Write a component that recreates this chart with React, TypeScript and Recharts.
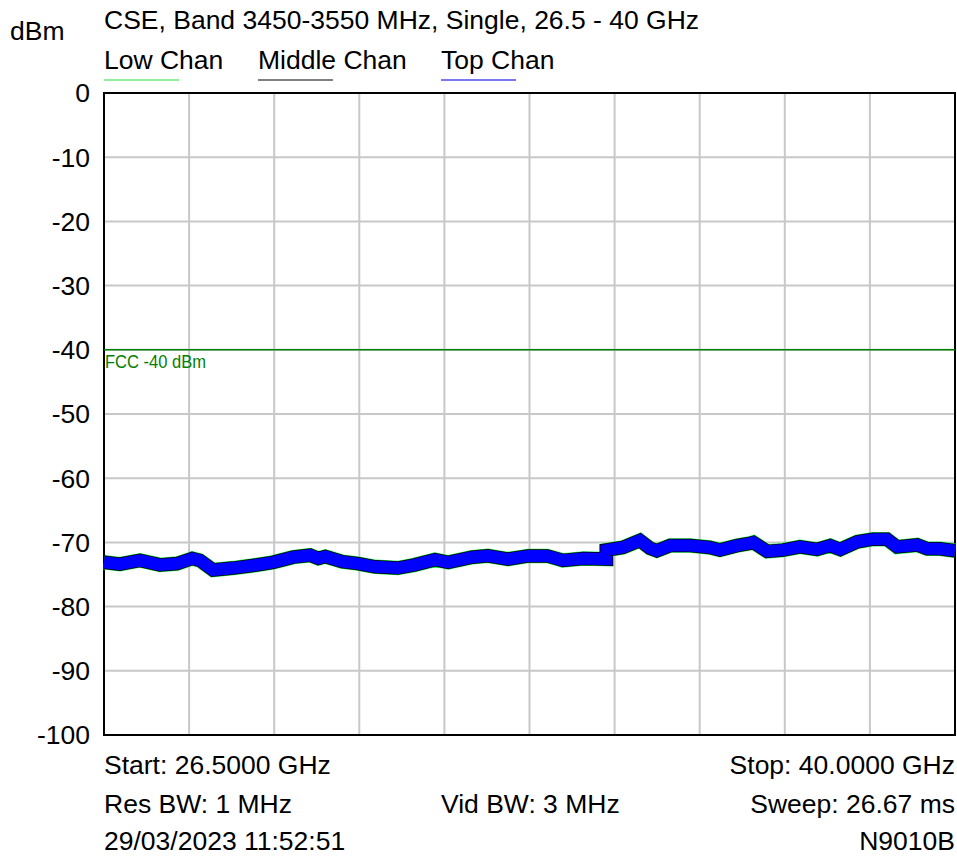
import React from "react";
import {
  LineChart,
  Line,
  XAxis,
  YAxis,
  CartesianGrid,
  ReferenceLine,
  ReferenceArea
} from "recharts";

// sweep points, GHz (two points at 34.47 for the step)
const freqGHz = [
  26.5, 26.75, 27.07, 27.39, 27.66, 27.9, 28.02, 28.23, 28.55, 28.86,
  29.18, 29.5, 29.77, 29.9, 30.01, 30.28, 30.53, 30.8, 31.16, 31.43,
  31.75, 31.96, 32.34, 32.59, 32.91, 33.23, 33.53, 33.78, 34.1, 34.47,
  34.47, 34.73, 35.0, 35.16, 35.27, 35.48, 35.8, 36.11, 36.27, 36.54,
  36.72, 36.8, 37.02, 37.27, 37.54, 37.81, 38.02, 38.18, 38.45, 38.7,
  38.92, 39.08, 39.4, 39.56, 39.76, 40.0
];

// Top Chan trace, dBm
const topChan = [
  -73.1, -73.4, -72.8, -73.5, -73.3, -72.5, -72.8, -74.3, -74.0, -73.6,
  -73.1, -72.3, -72.0, -72.5, -72.2, -73.0, -73.3, -73.8, -74.0, -73.5,
  -72.7, -73.1, -72.3, -72.1, -72.6, -72.1, -72.1, -72.8, -72.5, -72.6,
  -71.2, -70.8, -69.7, -70.9, -71.3, -70.5, -70.5, -70.8, -71.2, -70.5,
  -70.2, -70.0, -71.4, -71.2, -70.7, -71.1, -70.5, -71.1, -69.9, -69.5,
  -69.5, -70.7, -70.4, -71.0, -71.0, -71.3
];

// Low and Middle traces lie under Top Chan within the trace width
const midChan = topChan;
const lowChan = topChan;

const yTicks = [0, -10, -20, -30, -40, -50, -60, -70, -80, -90, -100];
const xDomain = [26.5, 40];
const xGrid = [26.5, 27.85, 29.2, 30.55, 31.9, 33.25, 34.6, 35.95, 37.3, 38.65, 40];

const fccLimit = -40;

const legendItems = [
  { name: "Low Chan", color: "#90f0a0", x: 104, w: 75 },
  { name: "Middle Chan", color: "#808080", x: 258, w: 75 },
  { name: "Top Chan", color: "#7878f0", x: 441, w: 75 }
];

const data = freqGHz.map((f, i) => ({
  f,
  low: lowChan[i],
  mid: midChan[i],
  top: topChan[i]
}));

const FONT = "'Liberation Sans', Arial, sans-serif";

const FccLabel = (props: any) => {
  const { viewBox } = props;
  return (
    <text
      x={viewBox.x + 1}
      y={viewBox.y + 18}
      fill="#008000"
      fontSize={18}
      fontFamily={FONT}
      textLength={101}
      lengthAdjust="spacingAndGlyphs"
    >
      FCC -40 dBm
    </text>
  );
};

const gridX = (args: any) => {
  const off = args.offset;
  return xGrid.map(
    (v) => off.left + ((v - xDomain[0]) / (xDomain[1] - xDomain[0])) * off.width
  );
};

const App: React.FC = () => {
  return (
    <div style={{ position: "absolute", left: 0, top: 0, width: 957, height: 856, background: "#fff" }}>
      <LineChart
        width={957}
        height={856}
        data={data}
        margin={{ top: 93, right: 2, bottom: 121, left: 44 }}
      >
        <CartesianGrid stroke="#c8c8c8" strokeWidth={2} verticalCoordinatesGenerator={gridX} />
        <XAxis
          dataKey="f"
          type="number"
          domain={xDomain}
          ticks={xGrid}
          tick={false}
          tickLine={false}
          axisLine={false}
          height={0}
        />
        <YAxis
          type="number"
          domain={[-100, 0]}
          ticks={yTicks}
          width={60}
          tickLine={false}
          axisLine={false}
          tickSize={0}
          tickMargin={14}
          tick={{ fill: "#000", fontSize: 26.5, fontFamily: FONT }}
        />
        <ReferenceLine
          y={fccLimit}
          stroke="#008000"
          strokeWidth={1.5}
          label={<FccLabel />}
        />
        <Line type="linear" dataKey="low" stroke="#22f055" strokeWidth={14.5} dot={false} isAnimationActive={false} />
        <Line type="linear" dataKey="mid" stroke="#000000" strokeWidth={13.5} dot={false} isAnimationActive={false} />
        <Line type="linear" dataKey="top" stroke="#0000ff" strokeWidth={12} dot={false} isAnimationActive={false} />
        <ReferenceArea
          x1={26.5}
          x2={40}
          y1={-100}
          y2={0}
          fill="none"
          stroke="#000"
          strokeWidth={2}
          ifOverflow="visible"
        />
      </LineChart>
      <svg
        width={957}
        height={856}
        style={{ position: "absolute", left: 0, top: 0, pointerEvents: "none" }}
        fontFamily={FONT}
        fontSize={26.5}
      >
        <text x={104} y={29}>CSE, Band 3450-3550 MHz, Single, 26.5 - 40 GHz</text>
        <text x={10} y={40}>dBm</text>
        {legendItems.map((it) => (
          <g key={it.name}>
            <text x={it.x} y={69}>{it.name}</text>
            <line x1={it.x} x2={it.x + it.w} y1={80} y2={80} stroke={it.color} strokeWidth={2} />
          </g>
        ))}
        <text x={104} y={774}>Start: 26.5000 GHz</text>
        <text x={955} y={774} textAnchor="end">Stop: 40.0000 GHz</text>
        <text x={104} y={813}>Res BW: 1 MHz</text>
        <text x={441} y={813}>Vid BW: 3 MHz</text>
        <text x={955} y={813} textAnchor="end">Sweep: 26.67 ms</text>
        <text x={104} y={850}>29/03/2023 11:52:51</text>
        <text x={955} y={850} textAnchor="end">N9010B</text>
      </svg>
    </div>
  );
};

export default App;
